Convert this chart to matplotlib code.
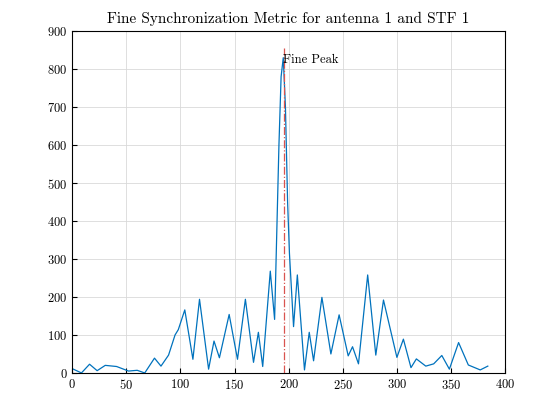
import matplotlib
matplotlib.use("Agg")
import matplotlib.pyplot as plt

plt.rcParams['font.family'] = ['cmr10', 'DejaVu Serif']
plt.rcParams['axes.formatter.use_mathtext'] = True

sample_idx = [1, 8.5, 16, 23, 30.5, 41, 52, 60, 67, 76, 82, 89, 95, 98, 104, 111.5, 117.6, 126, 131, 136,
              145, 152.7, 160, 167.5, 172, 176, 183, 187, 191, 193, 195, 197, 199, 200.7, 204.5, 208, 214.6,
              219, 223, 230.7, 239, 246.6, 255, 259, 264.5, 273, 280.5, 287.6, 300, 306, 313, 318, 326.7,
              334, 341.5, 348.5, 357, 366, 377, 384]
metric = [10, 0, 23, 6, 20, 17, 5, 7, 0, 39, 18, 47, 100, 114, 166, 36, 194, 10, 84, 40,
          154, 36, 194, 28, 107, 17, 268, 141, 600, 780, 830, 700, 450, 315, 122, 258, 8,
          107, 32, 199, 50, 153, 45, 69, 24, 258, 47, 192, 41, 89, 14, 37, 18,
          24, 46, 10, 80, 21, 8, 18]
peak_x = 196
peak_label = "Fine Peak"

fig = plt.figure(figsize=(5.6, 4.2), dpi=100)
ax = fig.add_axes([0.129, 0.112, 0.773, 0.814])
ax.plot(sample_idx, metric, color='#0072BD', lw=0.9)
ax.plot([peak_x, peak_x], [0, 855], color='#D9534F', ls='-.', lw=0.9)
ax.text(peak_x - 1, 815, peak_label, fontsize=9)
ax.set_xlim(0, 400)
ax.set_ylim(0, 900)
ax.set_xticks(range(0, 401, 50))
ax.set_yticks(range(0, 901, 100))
ax.grid(True, color='#d9d9d9', lw=0.6)
ax.tick_params(direction='in', labelsize=9, top=False, right=False)
ax.set_title("Fine Synchronization Metric for antenna 1 and STF 1", fontsize=11)
fig.savefig("out.png")
